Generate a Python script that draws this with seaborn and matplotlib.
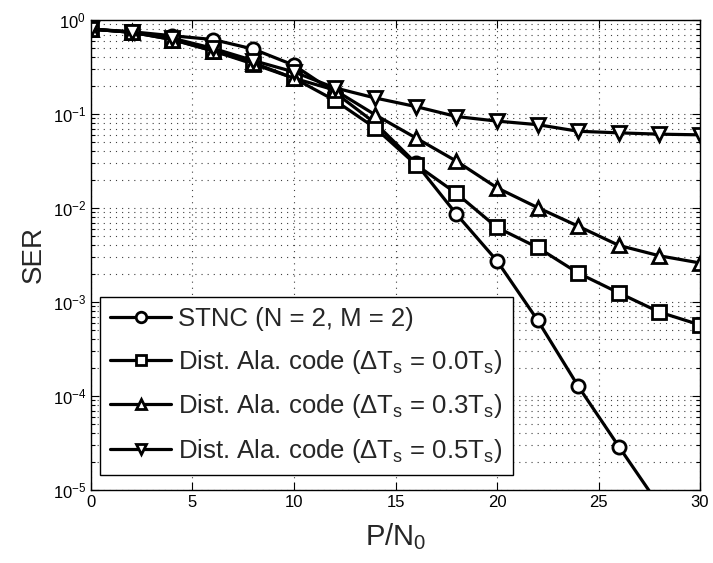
import numpy as np
import pandas as pd
import matplotlib
matplotlib.use("Agg")
import matplotlib.pyplot as plt
import matplotlib.ticker as mticker
import seaborn as sns

# ---- data ----
snr = [0, 2, 4, 6, 8, 10, 12, 14, 16, 18, 20, 22, 24, 26, 28, 30]
ser_stnc = [0.80, 0.75, 0.68, 0.62, 0.49, 0.33, 0.17, 0.080, 0.030, 0.0086, 0.00274,
            6.4e-4, 1.27e-4, 2.9e-5, 6.8e-6, 1.5e-6]
ser_d00 = [0.80, 0.74, 0.62, 0.47, 0.34, 0.24, 0.14, 0.071, 0.029, 0.0143, 0.0062,
           0.0038, 0.00203, 0.00125, 7.8e-4, 5.7e-4]
ser_d03 = [0.80, 0.74, 0.62, 0.47, 0.35, 0.24, 0.18, 0.098, 0.0557, 0.0315, 0.0164,
           0.0101, 0.0064, 0.0040, 0.0031, 0.0026]
ser_d05 = [0.80, 0.74, 0.64, 0.50, 0.37, 0.28, 0.19, 0.148, 0.12, 0.094, 0.084,
           0.077, 0.0655, 0.063, 0.061, 0.060]
labels = [
    "STNC (N = 2, M = 2)",
    r"Dist. Ala. code ($\Delta$T$_\mathrm{s}$ = 0.0T$_\mathrm{s}$)",
    r"Dist. Ala. code ($\Delta$T$_\mathrm{s}$ = 0.3T$_\mathrm{s}$)",
    r"Dist. Ala. code ($\Delta$T$_\mathrm{s}$ = 0.5T$_\mathrm{s}$)",
]
markers = ["o", "s", "^", "v"]

sns.set_style("ticks")
plt.rcParams["font.family"] = ["Liberation Sans", "DejaVu Sans"]
plt.rcParams["mathtext.fontset"] = "custom"
plt.rcParams["mathtext.rm"] = "Liberation Sans"
plt.rcParams["mathtext.it"] = "Liberation Sans:italic"
plt.rcParams["mathtext.sf"] = "Liberation Sans"
plt.rcParams["axes.unicode_minus"] = True

df = pd.concat([
    pd.DataFrame({"snr": snr, "ser": v, "scheme": lab})
    for v, lab in zip([ser_stnc, ser_d00, ser_d03, ser_d05], labels)
])

fig = plt.figure(figsize=(7.13, 5.63), dpi=100)
ax = fig.add_axes([0.1276, 0.1297, 0.8542, 0.8348])

sns.lineplot(data=df, x="snr", y="ser", style="scheme", style_order=labels,
             markers=dict(zip(labels, markers)), dashes=False, color="black",
             linewidth=2.3, markersize=9.5, markeredgewidth=2.0,
             markerfacecolor="white", markeredgecolor="black",
             ax=ax, legend=False, estimator=None, sort=False)

ax.set_yscale("log")
ax.set_xlim(0, 30)
ax.set_ylim(1e-5, 1)
ax.xaxis.set_major_locator(mticker.MultipleLocator(5))
ax.yaxis.set_major_locator(mticker.LogLocator(base=10, numticks=10))
ax.yaxis.set_minor_locator(mticker.LogLocator(base=10, subs=np.arange(2, 10), numticks=20))
ax.yaxis.set_minor_formatter(mticker.NullFormatter())

grid_kw = dict(linestyle=(0, (1, 4.5)), color="#404040", linewidth=0.8)
ax.xaxis.grid(True, which="major", **grid_kw)
ax.yaxis.grid(True, which="both", **grid_kw)
ax.set_axisbelow(True)

ax.tick_params(which="both", direction="in", top=True, right=True, labelsize=12, width=0.8, colors="black")
ax.tick_params(which="major", length=6)
ax.tick_params(which="minor", length=3)
for s in ax.spines.values():
    s.set_color("black")
    s.set_linewidth(1.0)

ax.set_xlabel("P/N$_\\mathrm{0}$", fontsize=21, labelpad=8)
ax.set_ylabel("SER", fontsize=20, labelpad=4)

handles = ax.get_lines()[:4]
leg = ax.legend(handles, labels, loc="lower left", bbox_to_anchor=(0.015, 0.032),
                borderaxespad=0, fontsize=18.5, frameon=True, fancybox=False,
                edgecolor="black", framealpha=1, handlelength=2.35, handletextpad=0.3,
                labelspacing=0.64, borderpad=0.4, markerscale=0.8)
leg.get_frame().set_linewidth(1.0)

fig.savefig("out.png", dpi=100)
